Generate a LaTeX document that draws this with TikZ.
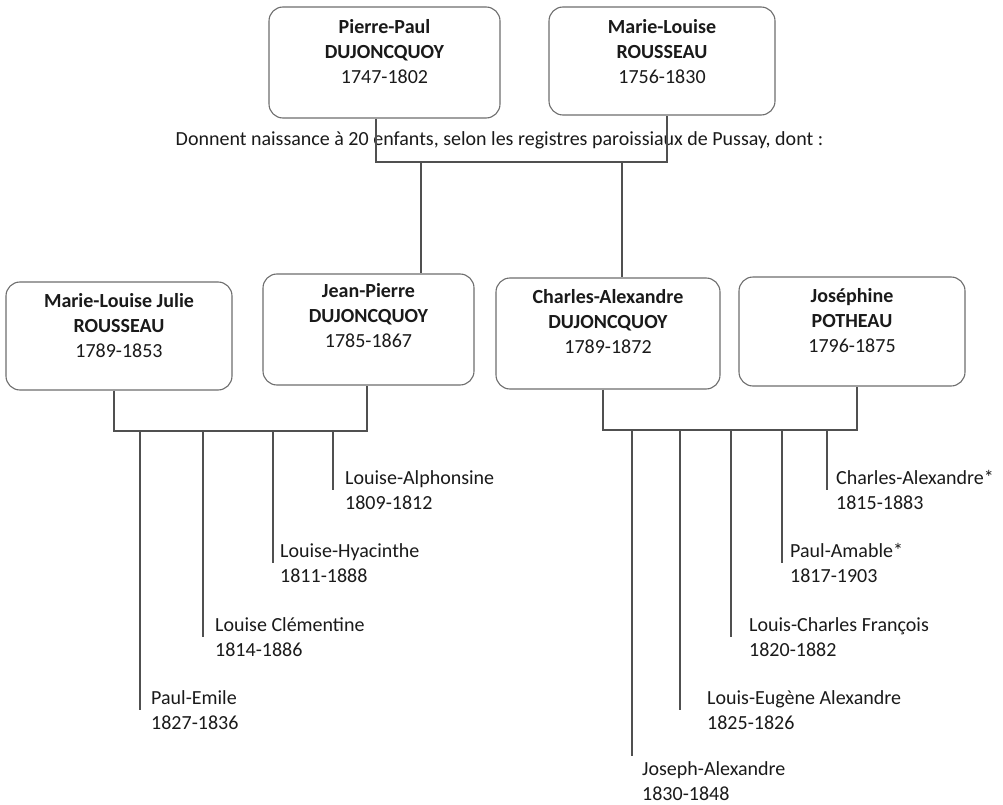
\documentclass[tikz,border=0pt]{standalone}
\usepackage{fontspec}
\setmainfont{Carlito}
\definecolor{boxgray}{HTML}{6E6E6E}
\definecolor{linegray}{HTML}{505050}
\definecolor{txt}{HTML}{1A1A1A}
\begin{document}
\begin{tikzpicture}[x=1pt,y=-1pt,
  box/.style={draw=boxgray, line width=1.1pt, rounded corners=14pt, inner sep=0pt},
  boxtxt/.style={align=center, inner sep=0pt, anchor=north, text=txt, font=\fontsize{20}{24.8}\selectfont},
  kid/.style={align=left, inner sep=0pt, anchor=west, text=txt, font=\fontsize{20}{24.5}\selectfont},
  link/.style={draw=linegray, line width=1.1pt}]
\useasboundingbox[fill=white] (0,0) rectangle (1003,805);

% generation 1
\node[box, minimum width=231pt, minimum height=111pt] (pp) at (384.5,62.5) {};
\node[boxtxt] (ppt) at ([yshift=-13pt]pp.north) {\textbf{Pierre-Paul}\\\textbf{DUJONCQUOY}\\1747-1802};
\node[box, minimum width=226pt, minimum height=108pt] (ml) at (662,61) {};
\node[boxtxt] (mlt) at ([yshift=-13pt]ml.north) {\textbf{Marie-Louise}\\\textbf{ROUSSEAU}\\1756-1830};

\node[text=txt, font=\fontsize{20}{24.5}\selectfont, inner sep=0pt] (note) at (499.5,140) {Donnent naissance à 20 enfants, selon les registres paroissiaux de Pussay, dont :};

% generation 2
\node[box, minimum width=226pt, minimum height=108pt] (mlj) at (119,336) {};
\node[boxtxt] (mljt) at ([yshift=-12pt]mlj.north) {\textbf{Marie-Louise Julie}\\\textbf{ROUSSEAU}\\1789-1853};
\node[box, minimum width=211pt, minimum height=111pt] (jp) at (368.5,329.5) {};
\node[boxtxt] (jpt) at ([yshift=-10pt]jp.north) {\textbf{Jean-Pierre}\\\textbf{DUJONCQUOY}\\1785-1867};
\node[box, minimum width=224pt, minimum height=111pt] (ca) at (608,333.5) {};
\node[boxtxt] (cat) at ([yshift=-12pt]ca.north) {\textbf{Charles-Alexandre}\\\textbf{DUJONCQUOY}\\1789-1872};
\node[box, minimum width=226pt, minimum height=109pt] (jo) at (852,331.5) {};
\node[boxtxt] (jot) at ([yshift=-12pt]jo.north) {\textbf{Joséphine}\\\textbf{POTHEAU}\\1796-1875};

% junctions
\coordinate (a1) at (376,162);
\coordinate (a2) at (667,162);
\coordinate (b1) at (421,162);
\coordinate (b2) at (622,162);
\draw[link] (pp.south -| a1) -- (a1) -- (a2) -- (ml.south -| a2);
\draw[link] (b1) -- (jp.north -| b1);
\draw[link] (b2) -- (ca.north -| b2);

\coordinate (l1) at (114,431);
\coordinate (l2) at (367,431);
\draw[link] (mlj.south -| l1) -- (l1) -- (l2) -- (jp.south -| l2);
\coordinate (r1) at (603,430);
\coordinate (r2) at (857,430);
\draw[link] (ca.south -| r1) -- (r1) -- (r2) -- (jo.south -| r2);

% children left
\node[kid] (k1) at (345,490) {Louise-Alphonsine\\1809-1812};
\node[kid] (k2) at (280,563) {Louise-Hyacinthe\\1811-1888};
\node[kid] (k3) at (215,637) {Louise Clémentine\\1814-1886};
\node[kid] (k4) at (151,710) {Paul-Emile\\1827-1836};
\coordinate (k1t) at (333,431);
\coordinate (k2t) at (273,431);
\coordinate (k3t) at (203,431);
\coordinate (k4t) at (140,431);
\draw[link] (k1t) -- (k1.west -| k1t);
\draw[link] (k2t) -- (k2.west -| k2t);
\draw[link] (k3t) -- (k3.west -| k3t);
\draw[link] (k4t) -- (k4.west -| k4t);

% children right
\node[kid] (m1) at (836,490) {Charles-Alexandre*\\1815-1883};
\node[kid] (m2) at (790,563) {Paul-Amable*\\1817-1903};
\node[kid] (m3) at (749,637) {Louis-Charles François\\1820-1882};
\node[kid] (m4) at (707,710) {Louis-Eugène Alexandre\\1825-1826};
\node[kid] (m5) at (642,781) {Joseph-Alexandre\\1830-1848};
\coordinate (m1t) at (827,430);
\coordinate (m2t) at (782,430);
\coordinate (m3t) at (731,430);
\coordinate (m4t) at (680,430);
\coordinate (m5t) at (632,430);
\draw[link] (m1t) -- (m1.west -| m1t);
\draw[link] (m2t) -- (m2.west -| m2t);
\draw[link] (m3t) -- (m3.west -| m3t);
\draw[link] (m4t) -- (m4.west -| m4t);
\draw[link] (m5t) -- ([yshift=25pt]m5.west -| m5t);
\end{tikzpicture}
\end{document}
